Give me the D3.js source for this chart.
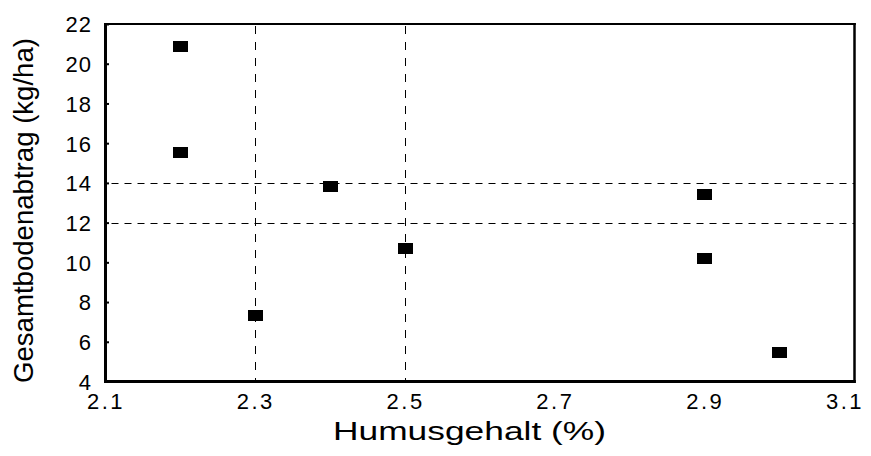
<!DOCTYPE html>
<html>
<head>
<meta charset="utf-8">
<script src="https://cdn.jsdelivr.net/npm/d3@7/dist/d3.min.js"></script>
<style>
  html, body { margin: 0; padding: 0; background: #fff; }
  svg { display: block; }
  text { font-family: "Liberation Sans", Arial, sans-serif; fill: #000; }
</style>
</head>
<body>
<svg id="chart" width="871" height="456"></svg>
<script>
// ---- data ----
const humus = [2.2, 2.2, 2.3, 2.4, 2.5, 2.9, 2.9, 3.0];
const abtrag = [20.85, 15.55, 7.3, 13.8, 10.7, 13.4, 10.2, 5.45];
const xTicks = [2.1, 2.3, 2.5, 2.7, 2.9, 3.1];
const yTicks = [4, 6, 8, 10, 12, 14, 16, 18, 20, 22];
const refX = [2.3, 2.5];
const refY = [12, 14];
const xTitle = "Humusgehalt (%)";
const yTitle = "Gesamtbodenabtrag (kg/ha)";

// ---- layout ----
const W = 871, H = 456;
const L = 105.5, R = 854.5, T = 24, B = 381.5;

const svg = d3.select("#chart");
const x = d3.scaleLinear().domain([2.1, 3.1]).range([L, R]);
const y = d3.scaleLinear().domain([4, 22]).range([B, T]);

// reference dashed lines
svg.append("g").selectAll("line").data(refX).join("line")
  .attr("x1", d => Math.round(x(d)) + 0.5).attr("x2", d => Math.round(x(d)) + 0.5)
  .attr("y1", T).attr("y2", B)
  .attr("stroke", "#000").attr("stroke-width", 1)
  .attr("stroke-dasharray", "8,8").attr("stroke-dashoffset", -2);

svg.append("g").selectAll("line").data(refY).join("line")
  .attr("x1", L).attr("x2", R)
  .attr("y1", d => Math.round(y(d)) + 0.5).attr("y2", d => Math.round(y(d)) + 0.5)
  .attr("stroke", "#000").attr("stroke-width", 1)
  .attr("stroke-dasharray", "7,6").attr("stroke-dashoffset", -6);

// markers
const mw = 15, mh = 11;
svg.append("g").selectAll("rect").data(humus.map((h, i) => [h, abtrag[i]])).join("rect")
  .attr("x", d => Math.round(x(d[0]) - mw / 2))
  .attr("y", d => Math.round(y(d[1]) - mh / 2))
  .attr("width", mw).attr("height", mh)
  .attr("fill", "#000");

// frame
svg.append("line").attr("x1", L - 1.5).attr("x2", R + 1.3).attr("y1", T).attr("y2", T)
  .attr("stroke", "#000").attr("stroke-width", 2);
svg.append("line").attr("x1", R).attr("x2", R).attr("y1", T - 1).attr("y2", B + 1.5)
  .attr("stroke", "#000").attr("stroke-width", 2.5);
svg.append("line").attr("x1", L - 1.5).attr("x2", R + 1.3).attr("y1", B).attr("y2", B)
  .attr("stroke", "#000").attr("stroke-width", 3);
svg.append("line").attr("x1", L).attr("x2", L).attr("y1", T - 1).attr("y2", B + 1.5)
  .attr("stroke", "#000").attr("stroke-width", 3);

// y axis (inward ticks + labels)
const yAxis = svg.append("g").attr("transform", `translate(${L},0)`)
  .call(d3.axisLeft(y).tickValues(yTicks).tickSize(-3.5).tickPadding(13.5).tickFormat(d3.format("d")));
yAxis.select(".domain").remove();
yAxis.selectAll(".tick line").attr("stroke", "#000").attr("stroke-width", 2);
yAxis.selectAll("text").attr("font-size", 22).attr("font-family", "Liberation Sans, Arial, sans-serif")
  .attr("letter-spacing", 1).attr("dy", "0.36em");

// x axis (labels only)
const xAxis = svg.append("g").attr("transform", `translate(0,${B})`)
  .call(d3.axisBottom(x).tickValues(xTicks).tickSize(0).tickPadding(12).tickFormat(d3.format(".1f")));
xAxis.select(".domain").remove();
xAxis.selectAll(".tick line").remove();
xAxis.selectAll("text").attr("font-size", 22).attr("font-family", "Liberation Sans, Arial, sans-serif")
  .attr("letter-spacing", 2.5);
// keep last label inside the canvas like the original
xAxis.selectAll(".tick text").each(function () {
  const t = d3.select(this);
  const bb = this.getBBox();
  const tr = d3.select(this.parentNode).attr("transform");
  const tx = +/translate\(([-\d.]+)/.exec(tr)[1];
  const right = tx + bb.x + bb.width;
  if (right > W - 7) t.attr("x", (W - 7) - right);
});

// titles
svg.append("text")
  .attr("x", 469.5).attr("y", 440)
  .attr("text-anchor", "middle")
  .attr("font-size", 25)
  .attr("textLength", 273).attr("lengthAdjust", "spacingAndGlyphs")
  .text(xTitle);

svg.append("text")
  .attr("transform", "translate(33,210.5) rotate(-90)")
  .attr("text-anchor", "middle")
  .attr("font-size", 28)
  .attr("textLength", 345).attr("lengthAdjust", "spacingAndGlyphs")
  .text(yTitle);
</script>
</body>
</html>
